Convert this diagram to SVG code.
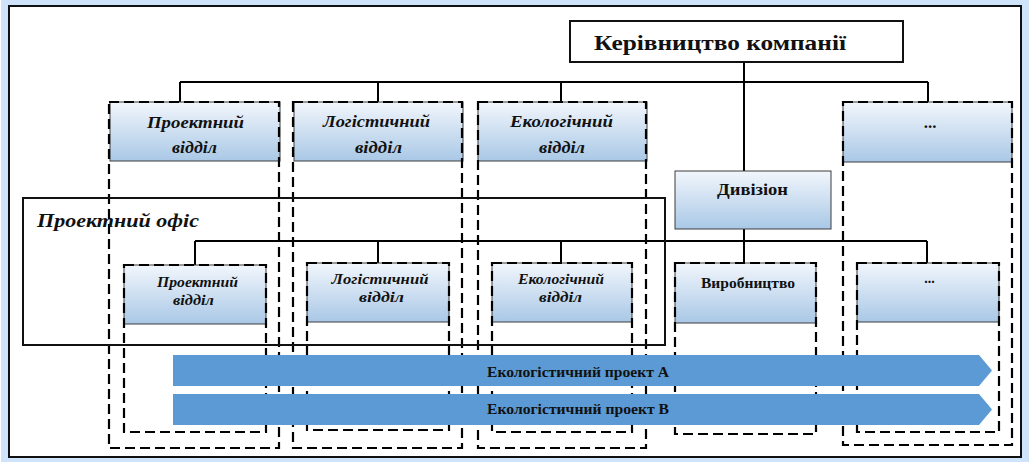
<svg xmlns="http://www.w3.org/2000/svg" width="1029" height="462" viewBox="0 0 1029 462">
<defs>
<linearGradient id="g" x1="0" y1="0" x2="0" y2="1">
<stop offset="0" stop-color="#f2f6fc"/>
<stop offset="1" stop-color="#a9c8e6"/>
</linearGradient>
<style>
.box{fill:url(#g);stroke:#3c3c3c;stroke-width:1}
.dash{fill:none;stroke:#000;stroke-width:2.2;stroke-dasharray:10 5}
.ln{fill:none;stroke:#000;stroke-width:2}
.t{font-family:"Liberation Serif","DejaVu Serif",serif;fill:#111;text-anchor:middle}
.bi{font-weight:bold;font-style:italic}
.b{font-weight:bold}
.arr{fill:#5b9ad4}
</style>
</defs>
<rect x="0" y="0" width="1029" height="462" fill="#ffffff"/>
<rect x="5" y="2" width="1020" height="459" fill="none" stroke="#cfe4fb" stroke-width="8"/>
<rect x="9" y="6" width="1012" height="451" fill="none" stroke="#111" stroke-width="2"/>

<g id="connectors">
<path class="ln" d="M744,62 V171 M180,82 H928 M180,82 V102 M378,82 V102 M561,82 V102 M928,82 V102"/>
<path class="ln" d="M744,229 V263 M195,241 H927 M195,241 V265 M378,241 V263 M561,241 V263 M927,241 V263"/>
</g>

<g id="top">
<rect x="570" y="21" width="333" height="41" fill="#fff" stroke="#111" stroke-width="2"/>
<text class="t b" x="720" y="50" font-size="20" textLength="252" lengthAdjust="spacingAndGlyphs">Керівництво компанії</text>
</g>

<g id="col1">
<rect class="box" x="110" y="102" width="170" height="59"/>
<rect class="dash" x="109" y="102" width="170" height="346"/>
<text class="t bi" x="195.5" y="128" font-size="17" textLength="97" lengthAdjust="spacingAndGlyphs">Проектний</text>
<text class="t bi" x="194.5" y="153" font-size="17" textLength="45" lengthAdjust="spacingAndGlyphs">відділ</text>
</g>
<g id="col2">
<rect class="box" x="294" y="102" width="169" height="59"/>
<rect class="dash" x="293" y="102" width="169" height="346"/>
<text class="t bi" x="376.5" y="127" font-size="17" textLength="107" lengthAdjust="spacingAndGlyphs">Логістичний</text>
<text class="t bi" x="378.5" y="153" font-size="17" textLength="47" lengthAdjust="spacingAndGlyphs">відділ</text>
</g>
<g id="col3">
<rect class="box" x="478" y="102" width="169" height="59"/>
<rect class="dash" x="478" y="102" width="168" height="346"/>
<text class="t bi" x="561.5" y="127" font-size="17" textLength="103" lengthAdjust="spacingAndGlyphs">Екологічний</text>
<text class="t bi" x="562" y="153" font-size="17" textLength="46" lengthAdjust="spacingAndGlyphs">відділ</text>
</g>
<g id="col4">
<rect class="box" x="843" y="102" width="169" height="60"/>
<rect class="dash" x="843" y="102" width="169" height="343"/>
<text class="t b" x="930" y="128" font-size="17">...</text>
</g>

<g id="division">
<rect class="box" x="675" y="171" width="156" height="58"/>
<text class="t b" x="752.5" y="195" font-size="16" textLength="71" lengthAdjust="spacingAndGlyphs">Дивізіон</text>
</g>

<g id="project-office">
<rect x="23" y="198" width="642" height="147" fill="none" stroke="#111" stroke-width="2"/>
<text class="t bi" x="37" y="227" font-size="19" style="text-anchor:start" textLength="162" lengthAdjust="spacingAndGlyphs">Проектний офіс</text>
</g>

<g id="sub1">
<rect class="box" x="124" y="265" width="142" height="59"/>
<rect class="dash" x="124" y="265" width="142" height="167"/>
<text class="t bi" x="197.5" y="287" font-size="14.5" textLength="81" lengthAdjust="spacingAndGlyphs">Проектний</text>
<text class="t bi" x="193.5" y="305" font-size="14.5" textLength="41" lengthAdjust="spacingAndGlyphs">відділ</text>
</g>
<g id="sub2">
<rect class="box" x="307" y="263" width="142" height="59"/>
<rect class="dash" x="307" y="263" width="142" height="167"/>
<text class="t bi" x="380" y="284" font-size="14.5" textLength="97" lengthAdjust="spacingAndGlyphs">Логістичний</text>
<text class="t bi" x="381.5" y="302" font-size="14.5" textLength="45" lengthAdjust="spacingAndGlyphs">відділ</text>
</g>
<g id="sub3">
<rect class="box" x="492" y="263" width="140" height="59"/>
<rect class="dash" x="492" y="263" width="140" height="169"/>
<text class="t bi" x="561" y="284" font-size="14.5" textLength="86" lengthAdjust="spacingAndGlyphs">Екологічний</text>
<text class="t bi" x="560.5" y="302" font-size="14.5" textLength="43" lengthAdjust="spacingAndGlyphs">відділ</text>
</g>
<g id="sub4">
<rect class="box" x="675" y="263" width="141" height="60"/>
<rect class="dash" x="675" y="263" width="141" height="171"/>
<text class="t b" x="748" y="288" font-size="14" textLength="94" lengthAdjust="spacingAndGlyphs">Виробництво</text>
</g>
<g id="sub5">
<rect class="box" x="857" y="263" width="142" height="59"/>
<rect class="dash" x="857" y="263" width="142" height="169"/>
<text class="t b" x="929.5" y="283" font-size="14">...</text>
</g>

<g id="projectA">
<polygon class="arr" points="173,355 979,355 992,370.5 979,386 173,386"/>
<text class="t b" x="578" y="377" font-size="14" textLength="182" lengthAdjust="spacingAndGlyphs">Екологістичний проект А</text>
</g>
<g id="projectB">
<polygon class="arr" points="173,394 979,394 992,409.5 979,425 173,425"/>
<text class="t b" x="578" y="414" font-size="14" textLength="182" lengthAdjust="spacingAndGlyphs">Екологістичний проект В</text>
</g>
</svg>
